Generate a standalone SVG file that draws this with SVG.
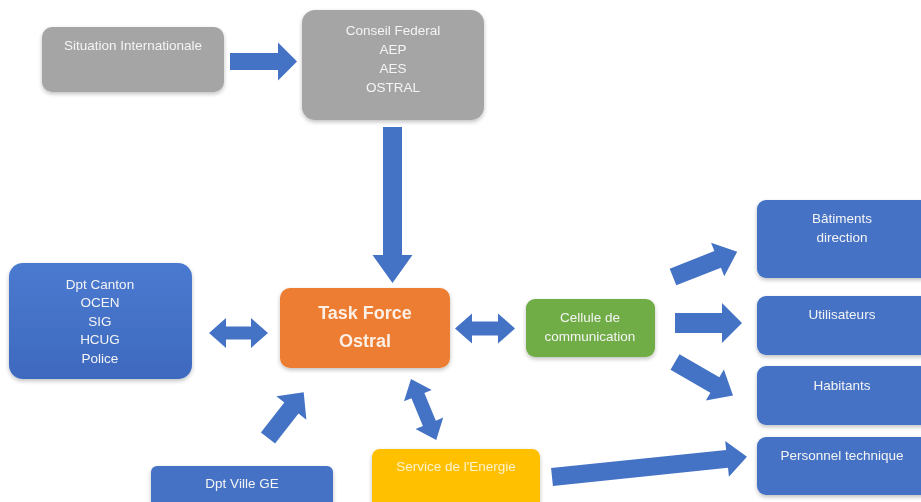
<svg xmlns="http://www.w3.org/2000/svg" width="921" height="502" viewBox="0 0 921 502">
<defs>
<style>
.t{font-family:"Liberation Sans",Arial,sans-serif;font-size:13.5px;fill:#F4F4F4;text-anchor:middle}
.tb{font-family:"Liberation Sans",Arial,sans-serif;font-size:18px;font-weight:bold;fill:#FBEFE6;text-anchor:middle}
.gray{fill:#A5A5A5}
.blue{fill:#4472C4}
.arr{fill:#4472C4}
</style>
<linearGradient id="bg" x1="0" y1="0" x2="0" y2="1">
<stop offset="0" stop-color="#4A7AD0"/>
<stop offset="1" stop-color="#3E69BE"/>
</linearGradient>
<filter id="sh" x="-10%" y="-10%" width="120%" height="130%">
<feGaussianBlur in="SourceAlpha" stdDeviation="2"/>
<feOffset dy="1.5"/>
<feComponentTransfer><feFuncA type="linear" slope="0.25"/></feComponentTransfer>
<feMerge><feMergeNode/><feMergeNode in="SourceGraphic"/></feMerge>
</filter>
</defs>
<rect width="921" height="502" fill="#FFFFFF"/>

<g id="connectors" class="arr">
<!-- Situation -> Conseil -->
<polygon transform="translate(230,61.5)" points="0,-8.5 48,-8.5 48,-19 67,0 48,19 48,8.5 0,8.5"/>
<!-- Conseil -> Task Force -->
<polygon transform="translate(392.5,127) rotate(90)" points="0,-9.5 128,-9.5 128,-20 156,0 128,20 128,9.5 0,9.5"/>
<!-- Canton <-> Task Force -->
<polygon transform="translate(209,333)" points="0,0 17,-15 17,-6.5 42,-6.5 42,-15 59,0 42,15 42,6.5 17,6.5 17,15"/>
<!-- Task Force <-> Cellule -->
<polygon transform="translate(455,328.5)" points="0,0 17,-15 17,-7 43,-7 43,-15 60,0 43,15 43,7 17,7 17,15"/>
<!-- Task Force <-> Service -->
<polygon transform="translate(411,379) rotate(67.5)" points="0,0 18,-15 18,-7 48,-7 48,-15 66,0 48,15 48,7 18,7 18,15"/>
<!-- Dpt Ville -> Task Force -->
<polygon transform="translate(268,438) rotate(-52)" points="0,-9 38,-9 38,-19 58,0 38,19 38,9 0,9"/>
<!-- Cellule -> Batiments -->
<polygon transform="translate(673,277) rotate(-21.5)" points="0,-9 48,-9 48,-18 69,0 48,18 48,9 0,9"/>
<!-- Cellule -> Utilisateurs -->
<polygon transform="translate(675,323)" points="0,-10 47,-10 47,-20 67,0 47,20 47,10 0,10"/>
<!-- Cellule -> Habitants -->
<polygon transform="translate(675,362) rotate(30)" points="0,-9 46,-9 46,-18 67,0 46,18 46,9 0,9"/>
<!-- Service -> Personnel -->
<polygon transform="translate(552,477) rotate(-5.9)" points="0,-9 176,-9 176,-18 196,0 176,18 176,9 0,9"/>
</g>

<g id="situation" filter="url(#sh)">
<rect class="gray" x="42" y="27" width="182" height="65" rx="10"/>
<text class="t" x="133" y="50">Situation Internationale</text>
</g>

<g id="conseil" filter="url(#sh)">
<rect class="gray" x="302" y="10" width="182" height="110" rx="13"/>
<text class="t" x="393" y="35">Conseil Federal</text>
<text class="t" x="393" y="54">AEP</text>
<text class="t" x="393" y="73">AES</text>
<text class="t" x="393" y="92">OSTRAL</text>
</g>

<g id="taskforce" filter="url(#sh)">
<rect x="280" y="288" width="170" height="80" rx="10" fill="#ED7D31"/>
<text class="tb" x="365" y="319">Task Force</text>
<text class="tb" x="365" y="347">Ostral</text>
</g>

<g id="canton" filter="url(#sh)">
<rect x="9" y="263" width="183" height="116" rx="14" fill="url(#bg)"/>
<text class="t" x="100" y="289">Dpt Canton</text>
<text class="t" x="100" y="307">OCEN</text>
<text class="t" x="100" y="326">SIG</text>
<text class="t" x="100" y="344">HCUG</text>
<text class="t" x="100" y="363">Police</text>
</g>

<g id="ville" filter="url(#sh)">
<rect class="blue" x="151" y="466" width="182" height="50" rx="6"/>
<text class="t" x="242" y="488">Dpt Ville GE</text>
</g>

<g id="service" filter="url(#sh)">
<rect x="372" y="449" width="168" height="67" rx="8" fill="#FFC000"/>
<text class="t" x="456" y="471" style="fill:#FFF2CC">Service de l'Energie</text>
</g>

<g id="cellule" filter="url(#sh)">
<rect x="526" y="299" width="129" height="58" rx="9" fill="#70AD47"/>
<text class="t" x="590" y="322">Cellule de</text>
<text class="t" x="590" y="341">communication</text>
</g>

<g id="batiments" filter="url(#sh)">
<rect class="blue" x="757" y="200" width="175" height="78" rx="9"/>
<text class="t" x="842" y="223">Bâtiments</text>
<text class="t" x="842" y="242">direction</text>
</g>

<g id="utilisateurs" filter="url(#sh)">
<rect class="blue" x="757" y="296" width="175" height="59" rx="9"/>
<text class="t" x="842" y="319">Utilisateurs</text>
</g>

<g id="habitants" filter="url(#sh)">
<rect class="blue" x="757" y="366" width="175" height="59" rx="9"/>
<text class="t" x="842" y="390">Habitants</text>
</g>

<g id="personnel" filter="url(#sh)">
<rect class="blue" x="757" y="437" width="175" height="58" rx="9"/>
<text class="t" x="842" y="460">Personnel technique</text>
</g>
</svg>
